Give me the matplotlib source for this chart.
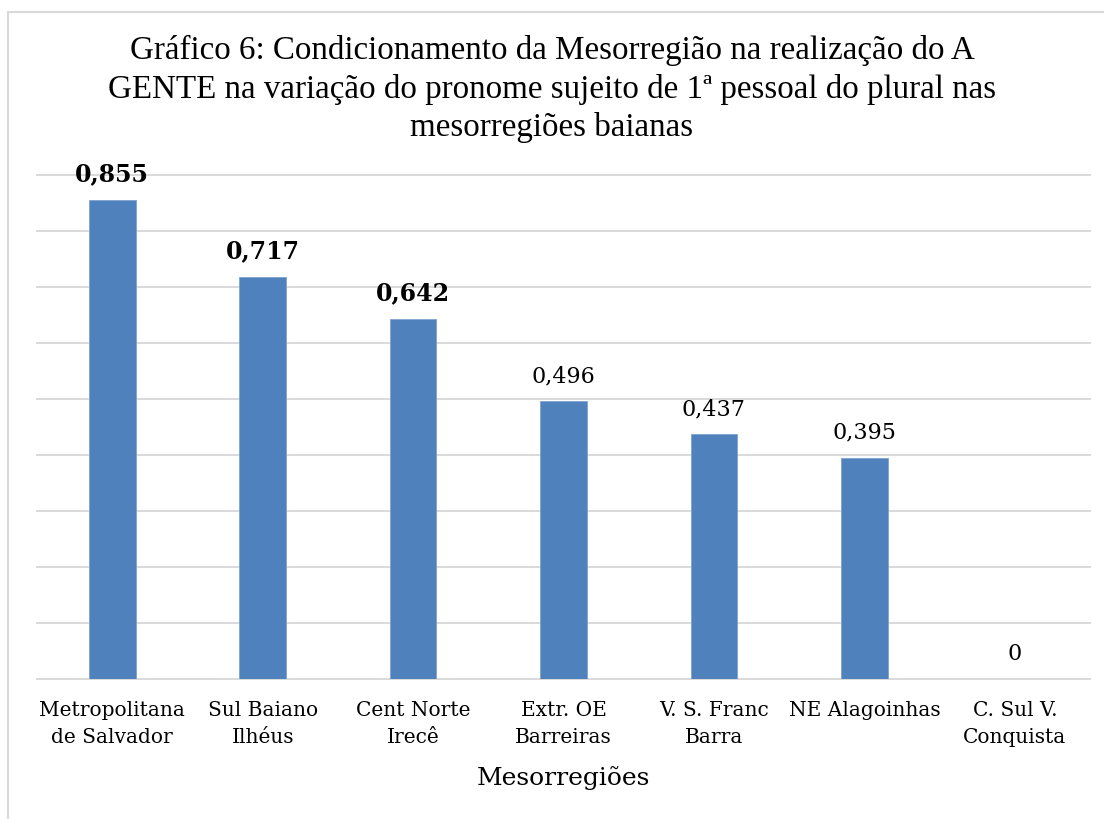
import matplotlib.pyplot as plt
from matplotlib.patches import Rectangle

regions = [
    "Metropolitana\nde Salvador",
    "Sul Baiano\nIlhéus",
    "Cent Norte\nIrecê",
    "Extr. OE\nBarreiras",
    "V. S. Franc\nBarra",
    "NE Alagoinhas",
    "C. Sul V.\nConquista",
]
values = [0.855, 0.717, 0.642, 0.496, 0.437, 0.395, 0]
value_labels = ["0,855", "0,717", "0,642", "0,496", "0,437", "0,395", "0"]
bold_labels = [True, True, True, False, False, False, False]

title = ("Gráfico 6: Condicionamento da Mesorregião na realização do A\n"
         "GENTE na variação do pronome sujeito de 1ª pessoal do plural nas\n"
         "mesorregiões baianas")

serif = ["DejaVu Serif"]

fig = plt.figure(figsize=(11.04, 8.19), dpi=100)
fig.patches.append(Rectangle((8 / 1104, -0.1), 1.2, 1.1 - 12 / 819,
                             transform=fig.transFigure, fill=False,
                             edgecolor="#D9D9D9", linewidth=1.5))
ax = fig.add_axes([37 / 1104, 1 - 679 / 819, (1090 - 37) / 1104, (679 - 175) / 819])

x = range(len(values))
ax.set_yticks([i / 10 for i in range(10)])
for gy in ax.get_yticks():
    ax.axhline(gy, color="#D9D9D9", linewidth=1.4, zorder=0, clip_on=False)
ax.bar(x, values, width=0.31, color="#4F81BD", edgecolor="#7FA3D1", linewidth=0.6, zorder=3)
ax.set_xlim(-0.5, len(values) - 0.5)
ax.set_ylim(0, 0.9)
ax.set_yticklabels([])
ax.tick_params(axis="y", length=0)
ax.tick_params(axis="x", length=0, pad=16)
for side in ax.spines.values():
    side.set_visible(False)

ax.set_xticks(list(x))
ax.set_xticklabels(regions, fontsize=14.5, family=serif, linespacing=1.5)
ax.set_xlabel("Mesorregiões", fontsize=18, family=serif, labelpad=14)

for i, (v, lab, b) in enumerate(zip(values, value_labels, bold_labels)):
    ax.annotate(lab, (i, v), xytext=(0, 10), textcoords="offset points",
                ha="center", va="bottom", fontsize=17 if b else 16,
                fontweight="bold" if b else "normal", family=serif)

fig.text(0.5, 1 - 89 / 819, title, ha="center", va="center", fontsize=23.8,
         family=["Liberation Serif"], linespacing=1.32)

fig.savefig("out.png", dpi=100)
